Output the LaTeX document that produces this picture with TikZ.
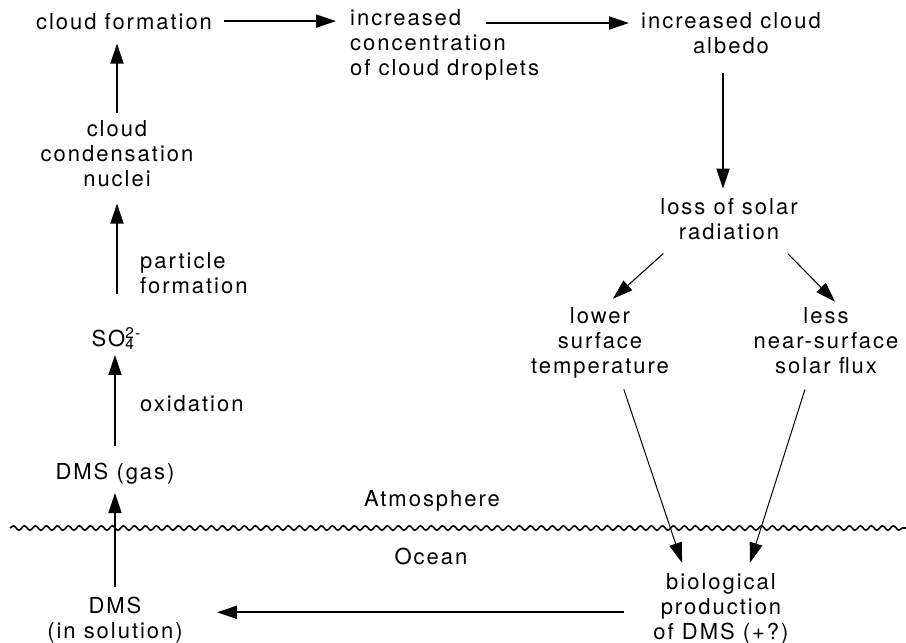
\documentclass[tikz,border=0pt]{standalone}
\usepackage{fontspec}
\setmainfont{TeX Gyre Heros}[LetterSpace=9]
\usetikzlibrary{arrows.meta,decorations.pathmorphing}

\tikzset{
  lbl/.style={font=\fontsize{22}{25}\selectfont, inner sep=0pt, align=center, anchor=base},
  flow/.style={line width=1.8pt, -{Triangle[length=20pt,width=13pt]}},
  thin flow/.style={line width=1.1pt, -{Triangle[length=20pt,width=13pt]}},
  sea/.style={line width=1.6pt, decorate,
    decoration={snake, amplitude=2.2pt, segment length=11pt}},
}

\begin{document}
\begin{tikzpicture}[x=1pt, y=-1pt]
	\useasboundingbox (0,0) rectangle (906,643);

	% Atmosphere side
	\node[lbl] (cf) at (124,29) {cloud formation};
	\node[lbl] (ccn) at (117,186) {cloud\\condensation\\nuclei};
	\node[lbl, align=left, anchor=base west] (pf) at (140,293) {particle\\formation};
	\node[lbl] (so) at (113,346) {SO\makebox[0pt][l]{\textsuperscript{2-}}\textsubscript{4}};
	\node[lbl, anchor=base west] (ox) at (140,411) {oxidation};
	\node[lbl] (dmsgas) at (115,479) {DMS (gas)};

	\node[lbl, align=left, anchor=base west] (icd) at (350,75) {increased\\concentration\\of cloud droplets};
	\coordinate (icdtail) at (486,23);
	\node[lbl] (ica) at (731,53) {increased cloud\\albedo};
	\node[lbl] (loss) at (729,239) {loss of solar\\radiation};
	\node[lbl] (lower) at (600,373) {lower\\surface\\temperature};
	\node[lbl] (less) at (826,373) {less\\near-surface\\solar flux};

	% Surface
	\draw[sea] (10,528) -- (906,528);
	\node[lbl] (atm) at (432,506) {Atmosphere};
	\node[lbl] (ocean) at (431,564) {Ocean};

	% Ocean side
	\node[lbl] (bio) at (721,639) {biological\\production\\of DMS (+?)};
	\node[lbl] (dmssol) at (115,638) {DMS\\(in solution)};

	% Feedback loop
	\draw[flow, shorten <=12pt, shorten >=14pt] (cf.east) -- (cf.east -| icd.west);
	\draw[flow, shorten >=12pt] (icdtail) -- (icdtail -| ica.west);
	\draw[flow, shorten <=19pt, shorten >=9pt] ([xshift=-8pt]ica.south) -- ([xshift=-8pt]ica.south |- loss.north);
	\draw[thin flow, shorten <=21pt, shorten >=12pt] ([xshift=-50pt]loss.south) -- ([xshift=4pt]lower.north);
	\draw[thin flow, shorten <=20pt, shorten >=7pt] ([xshift=45pt]loss.south) -- ([xshift=14pt]less.north);
	\draw[thin flow, line width=1pt, shorten <=12pt, shorten >=10.6pt] ([xshift=20pt]lower.south) -- ([xshift=-35.6pt]bio.north);
	\draw[thin flow, line width=1pt, shorten <=16.8pt, shorten >=10.5pt] ([xshift=-16pt]less.south) -- ([xshift=25.8pt]bio.north);
	\draw[flow, shorten <=29pt, shorten >=34pt] ([yshift=-4pt]bio.west) -- ([yshift=-4pt]bio.west -| dmssol.east);
	\draw[flow, shorten <=9pt, shorten >=9pt] (dmssol.north) -- (dmssol.north |- dmsgas.south);
	\draw[flow, shorten <=16pt, shorten >=5pt] (dmsgas.north) -- (dmsgas.north |- so.south);
	\draw[flow, shorten <=33pt, shorten >=17pt] (so.north -| ccn.south) -- (ccn.south);
	\draw[flow, shorten <=7pt, shorten >=14pt] (ccn.north) -- (ccn.north |- cf.south);
\end{tikzpicture}
\end{document}
